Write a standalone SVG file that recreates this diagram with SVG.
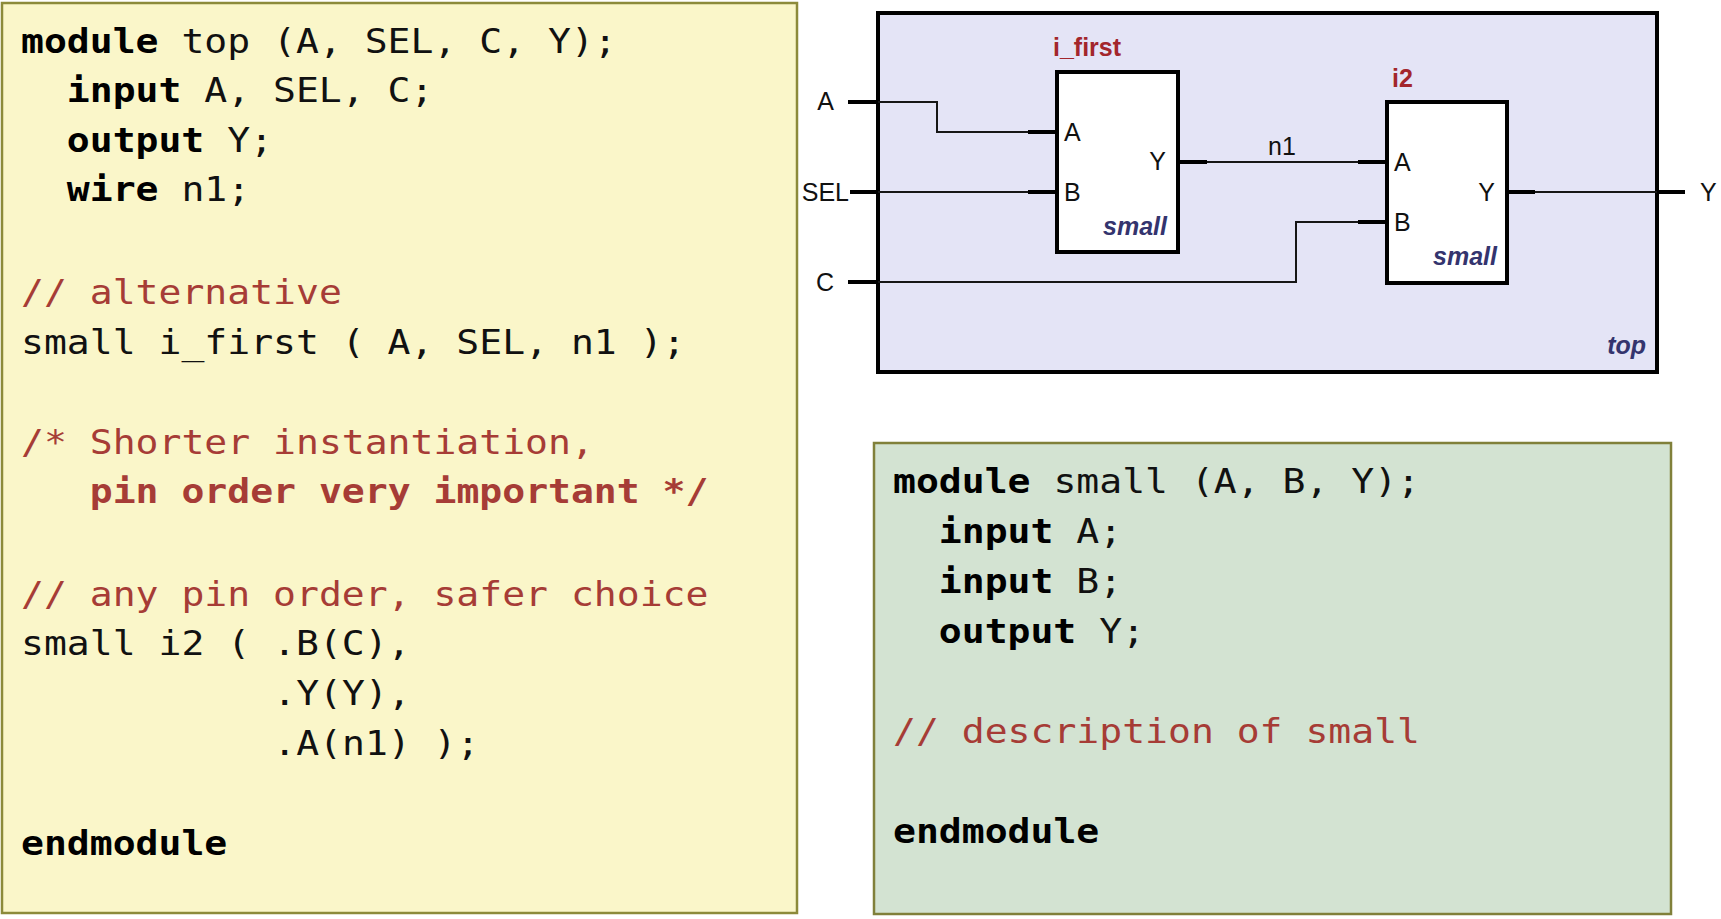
<svg xmlns="http://www.w3.org/2000/svg" width="1721" height="919" viewBox="0 0 1721 919">
<style>
.code{font-family:"DejaVu Sans Mono","Liberation Mono",monospace;font-size:34px;fill:#111}
.kw{font-weight:bold;fill:#000}
.cm{fill:#A63C36}
.cmb{fill:#A63C36;font-weight:bold}
.lbl{font-family:"Liberation Sans",Arial,sans-serif;font-size:25px;fill:#111}
.inst{font-family:"Liberation Sans",Arial,sans-serif;font-size:25px;font-weight:bold;fill:#A3262C}
.mod{font-family:"Liberation Sans",Arial,sans-serif;font-size:25px;font-weight:bold;font-style:italic;fill:#34346E}
.stub{stroke:#000;stroke-width:4;fill:none}
.wire{stroke:#161616;stroke-width:2;fill:none}
.blk{fill:#fff;stroke:#000;stroke-width:4}
</style>
<rect width="1721" height="919" fill="#fff"/>

<g id="code-top">
<rect x="2" y="3" width="795" height="910" fill="#FAF6C9" stroke="#8C8A3A" stroke-width="2.5"/>
<g class="code" transform="translate(21,0) scale(1.12,1)">
<text y="53"><tspan class="kw">module</tspan> top (A, SEL, C, Y);</text>
<text x="40.9" y="102"><tspan class="kw">input</tspan> A, SEL, C;</text>
<text x="40.9" y="152"><tspan class="kw">output</tspan> Y;</text>
<text x="40.9" y="201"><tspan class="kw">wire</tspan> n1;</text>
<text y="304" class="cm">// alternative</text>
<text y="354">small i_first ( A, SEL, n1 );</text>
<text y="454" class="cm">/* Shorter instantiation,</text>
<text x="61.4" y="503" class="cmb">pin order very important */</text>
<text y="606" class="cm">// any pin order, safer choice</text>
<text y="655">small i2 ( .B(C),</text>
<text x="225.2" y="705">.Y(Y),</text>
<text x="225.2" y="755">.A(n1) );</text>
<text y="855" class="kw">endmodule</text>
</g>
</g>

<g id="code-small">
<rect x="874" y="443" width="797" height="471" fill="#D3E3D2" stroke="#80803A" stroke-width="2.5"/>
<g class="code" transform="translate(893,0) scale(1.12,1)">
<text y="493"><tspan class="kw">module</tspan> small (A, B, Y);</text>
<text x="40.9" y="543"><tspan class="kw">input</tspan> A;</text>
<text x="40.9" y="593"><tspan class="kw">input</tspan> B;</text>
<text x="40.9" y="643"><tspan class="kw">output</tspan> Y;</text>
<text y="743" class="cm">// description of small</text>
<text y="843" class="kw">endmodule</text>
</g>
</g>

<g id="top">
<rect x="878" y="13" width="779" height="359" fill="#E4E4F6" stroke="#000" stroke-width="4"/>
<text class="mod" x="1646" y="354" text-anchor="end">top</text>
</g>

<g id="connectors">
<polyline class="wire" points="878,102 937,102 937,132 1028,132"/>
<polyline class="wire" points="878,192 1028,192"/>
<polyline class="wire" points="1207,162 1358,162"/>
<polyline class="wire" points="878,282 1296,282 1296,222 1358,222"/>
<polyline class="wire" points="1535,192 1657,192"/>
<path class="stub" d="M848,102H878M850,192H878M848,282H878M1028,132H1057M1028,192H1057M1178,162H1207M1358,162H1387M1358,222H1387M1507,192H1535M1657,192H1685"/>
<text class="lbl" x="1268" y="155">n1</text>
</g>

<g id="ports">
<text class="lbl" x="834" y="110" text-anchor="end">A</text>
<text class="lbl" x="849" y="201" text-anchor="end">SEL</text>
<text class="lbl" x="834" y="291" text-anchor="end">C</text>
<text class="lbl" x="1700" y="201">Y</text>
</g>

<g id="i_first">
<rect class="blk" x="1057" y="72" width="121" height="180"/>
<text class="inst" x="1053" y="56">i_first</text>
<text class="lbl" x="1064" y="141">A</text>
<text class="lbl" x="1064" y="201">B</text>
<text class="lbl" x="1166" y="170" text-anchor="end">Y</text>
<text class="mod" x="1167" y="235" text-anchor="end">small</text>
</g>

<g id="i2">
<rect class="blk" x="1387" y="102" width="120" height="181"/>
<text class="inst" x="1392" y="87">i2</text>
<text class="lbl" x="1394" y="171">A</text>
<text class="lbl" x="1394" y="231">B</text>
<text class="lbl" x="1495" y="201" text-anchor="end">Y</text>
<text class="mod" x="1497" y="265" text-anchor="end">small</text>
</g>
</svg>
